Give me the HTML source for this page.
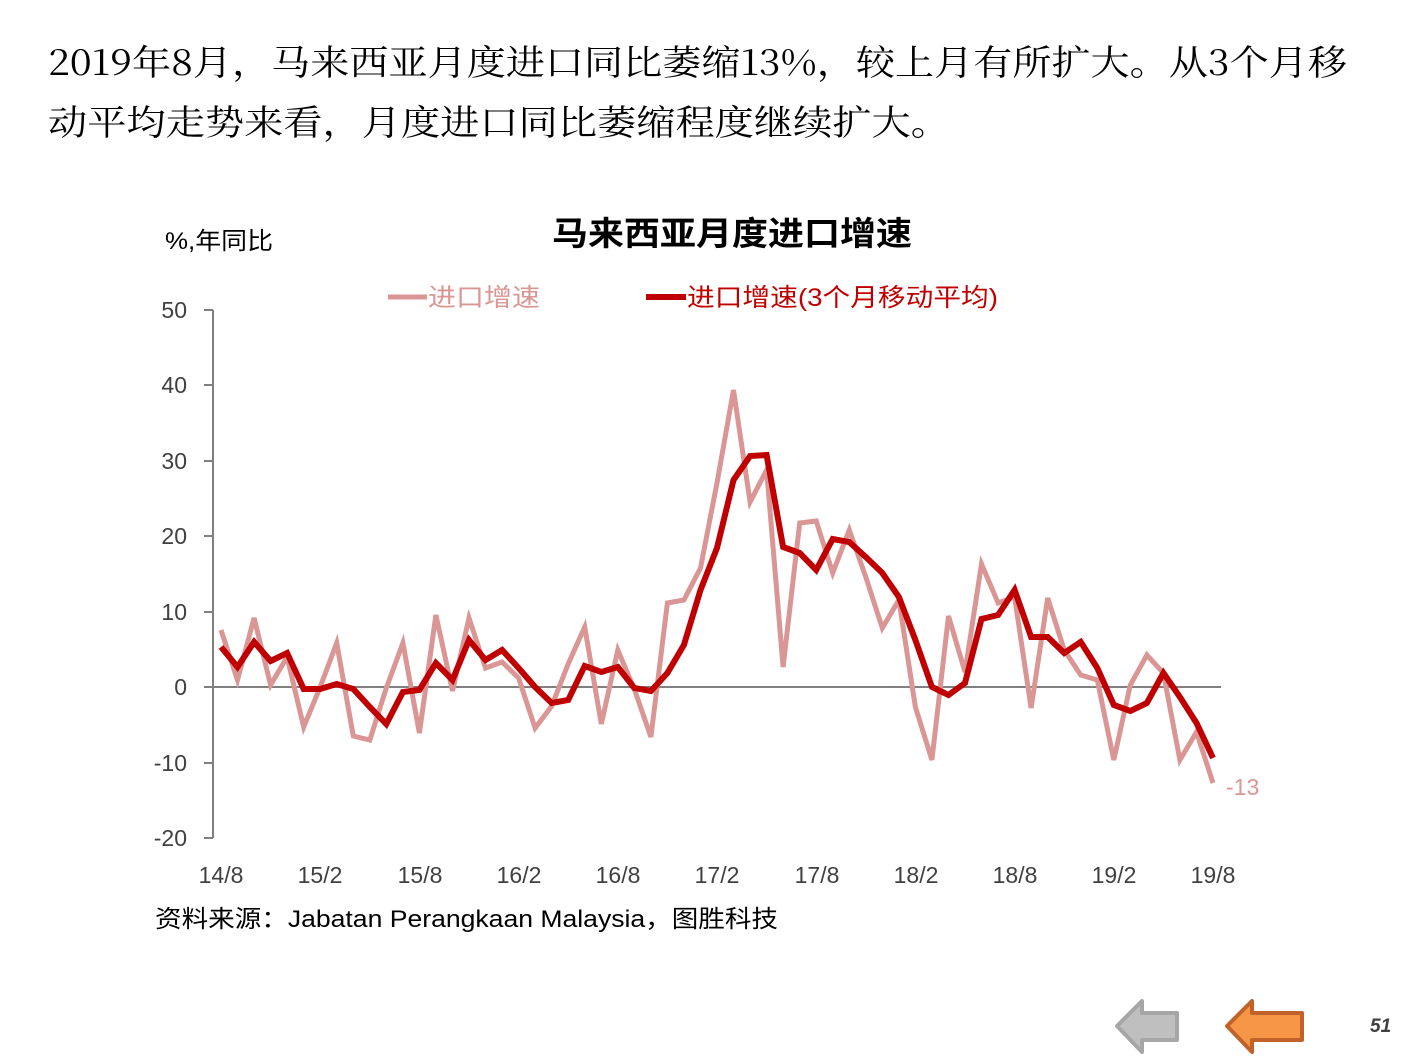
<!DOCTYPE html>
<html><head><meta charset="utf-8">
<style>
html,body{margin:0;padding:0;background:#fff;width:1411px;height:1058px;overflow:hidden}
svg{display:block}
.s{font-family:"Liberation Sans","Noto Sans CJK SC",sans-serif}
</style></head>
<body>
<svg id="c" width="1411" height="1058" xmlns="http://www.w3.org/2000/svg">
<text x="48" y="75" font-family="'Noto Serif CJK SC','Liberation Serif',serif" font-size="35" fill="#000" textLength="1299" lengthAdjust="spacingAndGlyphs">2019年8月，马来西亚月度进口同比萎缩13%，较上月有所扩大。从3个月移</text>
<text x="48" y="135" font-family="'Noto Serif CJK SC','Liberation Serif',serif" font-size="35" fill="#000" textLength="902" lengthAdjust="spacingAndGlyphs">动平均走势来看，月度进口同比萎缩程度继续扩大。</text>
<text x="552" y="245" class="s" font-size="33" font-weight="bold" fill="#000" textLength="360" lengthAdjust="spacingAndGlyphs">马来西亚月度进口增速</text>
<text x="165" y="249" class="s" font-size="24" fill="#000" textLength="108" lengthAdjust="spacingAndGlyphs">%,年同比</text>
<line x1="388" y1="297" x2="427" y2="297" stroke="#DA9694" stroke-width="5"/>
<text x="428" y="306" class="s" font-size="25" fill="#DA9694" textLength="112" lengthAdjust="spacingAndGlyphs">进口增速</text>
<line x1="646" y1="297" x2="686" y2="297" stroke="#C00000" stroke-width="6"/>
<text x="687" y="306" class="s" font-size="25" fill="#C00000" textLength="311" lengthAdjust="spacingAndGlyphs">进口增速(3个月移动平均)</text>
<g stroke="#808080" stroke-width="2" fill="none">
<line x1="213" y1="310" x2="213" y2="838"/>
<line x1="204" y1="310" x2="213" y2="310"/>
<line x1="204" y1="385" x2="213" y2="385"/>
<line x1="204" y1="461" x2="213" y2="461"/>
<line x1="204" y1="536" x2="213" y2="536"/>
<line x1="204" y1="612" x2="213" y2="612"/>
<line x1="204" y1="687" x2="1221" y2="687"/>
<line x1="204" y1="763" x2="213" y2="763"/>
<line x1="204" y1="838" x2="213" y2="838"/>
</g>
<g class="s" font-size="23" fill="#404040" text-anchor="end">
<text x="187" y="318">50</text><text x="187" y="393">40</text><text x="187" y="469">30</text>
<text x="187" y="544">20</text><text x="187" y="620">10</text><text x="187" y="695">0</text>
<text x="187" y="771">-10</text><text x="187" y="846">-20</text>
</g>
<g class="s" font-size="23" fill="#404040" text-anchor="middle">
<text x="221" y="883">14/8</text><text x="320" y="883">15/2</text><text x="420" y="883">15/8</text>
<text x="519" y="883">16/2</text><text x="618" y="883">16/8</text><text x="717" y="883">17/2</text>
<text x="817" y="883">17/8</text><text x="916" y="883">18/2</text><text x="1015" y="883">18/8</text>
<text x="1114" y="883">19/2</text><text x="1213" y="883">19/8</text>
</g>
<polyline id="l1" fill="none" stroke="#DA9694" stroke-width="5" stroke-linejoin="miter"/>
<polyline id="l2" fill="none" stroke="#C00000" stroke-width="6" stroke-linejoin="miter"/>
<text x="1226" y="795" class="s" font-size="23" fill="#DA9694">-13</text>
<text x="155" y="927" class="s" font-size="24" fill="#000" textLength="623" lengthAdjust="spacingAndGlyphs">资料来源：Jabatan Perangkaan Malaysia，图胜科技</text>
<polygon points="1117,1026 1142,1001 1142,1013 1177,1013 1177,1040 1142,1040 1142,1052" fill="#BFBFBF" stroke="#A6A6A6" stroke-width="4" stroke-linejoin="round"/>
<polygon points="1227,1026 1252,1001 1252,1013 1302,1013 1302,1040 1252,1040 1252,1052" fill="#F79646" stroke="#C0622A" stroke-width="4" stroke-linejoin="round"/>
<text x="1370" y="1032" class="s" font-size="19" font-style="italic" font-weight="bold" fill="#404040">51</text>
</svg>
<script>
var a=[630,680,618,685,657,727,687,643,736,740,688,643,733,615,691,618,668,662,678,728,706,664,627,724,650,689,737,603,600,568,483,390,502,470,667,523,521,573,530,577,628,600,707,760,616,672,564,603,597,708,598,650,675,680,760,685,655,673,760,732,783];
var b=[647,667,642,661,653,689,689,684,689,707,724,692,690,663,680,640,660,650,668,687,703,700,666,672,667,688,691,673,645,590,548,480,456,455,547,553,570,539,542,557,573,597,640,687,695,683,619,615,590,637,637,653,642,668,705,711,703,673,697,723,758];
function p(v){return v.map(function(y,i){return (221+992/60*i).toFixed(1)+','+y}).join(' ')}
document.getElementById('l1').setAttribute('points',p(a));
document.getElementById('l2').setAttribute('points',p(b));
</script>
</body></html>
